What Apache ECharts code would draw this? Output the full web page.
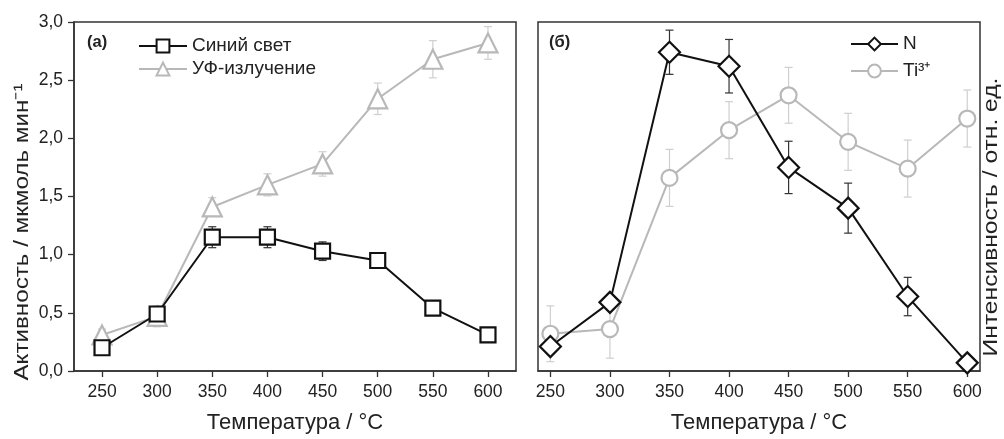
<!DOCTYPE html>
<html><head><meta charset="utf-8">
<script src="https://cdn.jsdelivr.net/npm/echarts@6/dist/echarts.min.js"></script>
<style>html,body{margin:0;padding:0;background:#fff}#c{width:1004px;height:439px}</style>
</head><body><div id="c"></div>
<script>
const temps = [250, 300, 350, 400, 450, 500, 550, 600];
const xTicks = [250, 300, 350, 400, 450, 500, 550, 600];
const yTicks = [0, 0.5, 1.0, 1.5, 2.0, 2.5, 3.0];
const blueLight = [0.20, 0.49, 1.15, 1.15, 1.03, 0.95, 0.54, 0.31];
const blueErr   = [0.03, 0.03, 0.09, 0.09, 0.08, 0.05, 0.03, 0.03];
const uvLight   = [0.31, 0.47, 1.41, 1.60, 1.78, 2.34, 2.68, 2.82];
const uvErr     = [0.05, 0.09, 0.08, 0.095, 0.105, 0.135, 0.16, 0.14];
const nInt      = [0.21, 0.59, 2.74, 2.62, 1.75, 1.40, 0.64, 0.07];
const nErr      = [0.05, 0.05, 0.19, 0.23, 0.225, 0.215, 0.165, 0.02];
const tiInt     = [0.32, 0.36, 1.66, 2.07, 2.37, 1.97, 1.74, 2.17];
const tiErr     = [0.24, 0.25, 0.245, 0.245, 0.24, 0.245, 0.245, 0.245];

const FONT = 'Liberation Sans, Arial, sans-serif';
const TXT = '#222';
const BLACK = '#111';
const GRAY = '#b8b8b8';
const EGRAY = '#cfcfcf';

function pts(vals){ return temps.map((t,i)=>[t, vals[i]]); }
function errPts(vals, errs){ return temps.map((t,i)=>[t, vals[i], errs[i]]); }

function errSeries(name, idx, vals, errs, color){
  return {
    type: 'custom', name: name + '_err', xAxisIndex: idx, yAxisIndex: idx, z: 1,
    silent: true, encode: {x: 0, y: 1},
    data: errPts(vals, errs),
    renderItem: function(params, api){
      const x = api.value(0), y = api.value(1), e = api.value(2);
      const hi = api.coord([x, y + e]);
      const lo = api.coord([x, y - e]);
      const w = 4;
      const st = {stroke: color, lineWidth: 1.2};
      return {type: 'group', children: [
        {type: 'line', shape: {x1: hi[0], y1: hi[1], x2: lo[0], y2: lo[1]}, style: st},
        {type: 'line', shape: {x1: hi[0]-w, y1: hi[1], x2: hi[0]+w, y2: hi[1]}, style: st},
        {type: 'line', shape: {x1: lo[0]-w, y1: lo[1], x2: lo[0]+w, y2: lo[1]}, style: st}
      ]};
    }
  };
}

function lineSeries(name, idx, vals, color, symbol, size, z){
  return {
    type: 'line', name: name, xAxisIndex: idx, yAxisIndex: idx, z: z,
    data: pts(vals), symbol: symbol, symbolSize: size, showAllSymbol: true,
    lineStyle: {color: color, width: 2},
    itemStyle: {color: '#fff', borderColor: color, borderWidth: 2.2},
    emphasis: {disabled: true}, animation: false
  };
}

const xAxisBase = (idx, min, max) => ({
  type: 'value', gridIndex: idx, min: min, max: max,
  name: 'Температура / °C', nameLocation: 'middle', nameGap: 41,
  nameTextStyle: {fontFamily: FONT, fontSize: 22, color: TXT},
  axisLine: {show: true, onZero: false, lineStyle: {color: '#333', width: 1.5}},
  axisTick: {show: true, length: 6, lineStyle: {color: '#333', width: 1.3}, customValues: xTicks},
  axisLabel: {fontFamily: FONT, fontSize: 17.5, color: TXT, margin: 12, customValues: xTicks},
  splitLine: {show: false}
});

const option = {
  animation: false,
  backgroundColor: '#fff',
  grid: [
    {left: 74, top: 22, width: 442, height: 354, show: true, borderColor: '#333', borderWidth: 1.5},
    {left: 538, top: 22, width: 442, height: 354, show: true, borderColor: '#333', borderWidth: 1.5}
  ],
  xAxis: [xAxisBase(0, 224.6, 625.4), xAxisBase(1, 239.6, 610.7)],
  yAxis: [
    {type: 'value', gridIndex: 0, min: 0, max: 3,
     axisLine: {show: true, lineStyle: {color: '#333', width: 1.5}},
     axisTick: {show: true, length: 6, lineStyle: {color: '#333', width: 1.3}, customValues: yTicks},
     axisLabel: {fontFamily: FONT, fontSize: 17.5, color: TXT, margin: 11, customValues: yTicks,
                 formatter: v => v.toFixed(1).replace('.', ',')},
     splitLine: {show: false}},
    {type: 'value', gridIndex: 1, min: 0, max: 3, position: 'right',
     axisLine: {show: false}, axisTick: {show: false}, axisLabel: {show: false},
     splitLine: {show: false}}
  ],
  legend: [
    {data: ['Синий свет', 'УФ-излучение'], orient: 'vertical', left: 133, top: 31,
     itemWidth: 48, itemHeight: 16, itemGap: 3, selectedMode: false,
     textStyle: {fontFamily: FONT, fontSize: 19, color: TXT, lineHeight: 20}},
    {data: ['N', 'Ti³⁺'], orient: 'vertical', left: 845, top: 29,
     itemWidth: 47, itemHeight: 16, itemGap: 7, selectedMode: false,
     textStyle: {fontFamily: FONT, fontSize: 19, color: TXT, lineHeight: 20}}
  ],
  graphic: [
    {type: 'text', left: 87, top: 34, style: {text: '(a)', fontFamily: FONT, fontSize: 16.5, fontWeight: 'bold', fill: TXT}},
    {type: 'text', left: 549, top: 34, style: {text: '(б)', fontFamily: FONT, fontSize: 16.5, fontWeight: 'bold', fill: TXT}},
    {type: 'text', x: 22, y: 232, rotation: Math.PI / 2, scaleX: 1.18, scaleY: 1,
     style: {text: 'Активность / мкмоль мин⁻¹', fontFamily: FONT, fontSize: 20.5, fill: TXT, align: 'center', verticalAlign: 'middle'}},
    {type: 'text', x: 991, y: 217, rotation: Math.PI / 2, scaleX: 1.2, scaleY: 1,
     style: {text: 'Интенсивность / отн. ед.', fontFamily: FONT, fontSize: 20.5, fill: TXT, align: 'center', verticalAlign: 'middle'}}
  ],
  series: [
    errSeries('УФ-излучение', 0, uvLight, uvErr, EGRAY),
    lineSeries('УФ-излучение', 0, uvLight, GRAY, 'triangle', 19, 2),
    errSeries('Синий свет', 0, blueLight, blueErr, '#333'),
    lineSeries('Синий свет', 0, blueLight, BLACK, 'rect', 15, 3),
    errSeries('Ti³⁺', 1, tiInt, tiErr, EGRAY),
    lineSeries('Ti³⁺', 1, tiInt, GRAY, 'circle', 16, 2),
    errSeries('N', 1, nInt, nErr, '#333'),
    lineSeries('N', 1, nInt, BLACK, 'diamond', 21, 3)
  ]
};
const chart = echarts.init(document.getElementById('c'), null, {renderer: 'canvas'});
chart.setOption(option);
</script>
</body></html>
